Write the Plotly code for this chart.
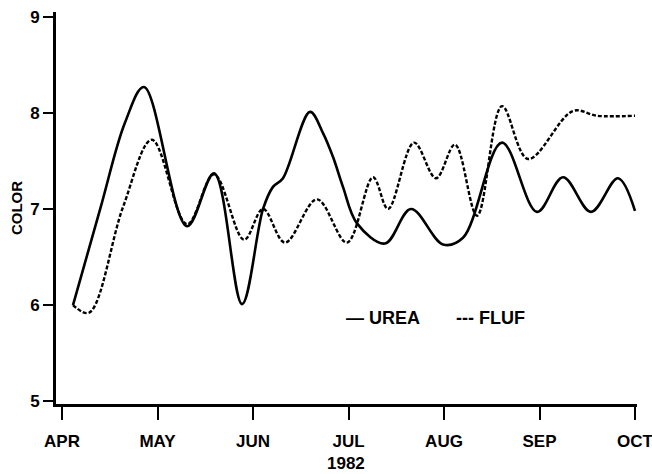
import plotly.graph_objects as go

# month positions: 0 = APR 1, 1 = MAY 1, ... 6 = OCT 1
month_labels = ["APR", "MAY", "JUN", "JUL", "AUG", "SEP", "OCT"]
month_ticks = [0, 1, 2, 3, 4, 5, 6]

urea_x = [0.115, 0.40, 0.66, 0.859, 1.309, 1.592, 1.885, 2.105, 2.209, 2.314, 2.597,
          2.733, 2.838, 2.942, 3.089, 3.382, 3.654, 3.990, 4.199, 4.607, 4.974,
          5.246, 5.539, 5.822, 6.0]
urea_y = [6.00, 7.00, 7.90, 8.27, 6.82, 7.37, 6.01, 7.00, 7.23, 7.32, 8.01,
          7.79, 7.54, 7.23, 6.85, 6.64, 7.00, 6.63, 6.70, 7.69, 6.97,
          7.33, 6.97, 7.32, 6.98]

fluf_x = [0.115, 0.283, 0.639, 0.942, 1.309, 1.592, 1.906, 2.105, 2.335, 2.670,
          2.984, 3.257, 3.414, 3.686, 3.916, 4.115, 4.346, 4.607, 4.880, 5.351,
          5.602, 6.0]
fluf_y = [6.00, 5.92, 7.02, 7.72, 6.84, 7.36, 6.68, 7.00, 6.65, 7.10,
          6.65, 7.33, 7.00, 7.69, 7.32, 7.67, 6.93, 8.07, 7.52, 8.02,
          7.97, 7.97]

y_ticks = [5, 6, 7, 8, 9]

FONT = "Liberation Sans, Arial, Helvetica, sans-serif"

fig = go.Figure()
fig.add_trace(go.Scatter(x=urea_x, y=urea_y, mode="lines", name="UREA",
                         line=dict(color="black", width=2.6, shape="spline", smoothing=1.0)))
fig.add_trace(go.Scatter(x=fluf_x, y=fluf_y, mode="lines", name="FLUF",
                         line=dict(color="black", width=2.4, dash="4px,2px",
                                   shape="spline", smoothing=1.0)))

fig.update_layout(
    width=652, height=474,
    margin=dict(l=56, r=15, t=12, b=70, autoexpand=False),
    plot_bgcolor="white", paper_bgcolor="white",
    showlegend=False,
    font=dict(family=FONT, color="black", size=16, weight="bold"),
    xaxis=dict(
        range=[-0.063, 6.021], tickvals=month_ticks, ticktext=month_labels,
        automargin=False, ticklabeloverflow="allow",
        showgrid=False, zeroline=False, showline=True, linecolor="black", linewidth=3,
        ticks="outside", ticklen=13, tickwidth=2, tickcolor="black",
        tickfont=dict(family=FONT, size=17, weight="bold"),
        ticklabelstandoff=7,
    ),
    yaxis=dict(
        range=[4.97, 9.05], tickvals=y_ticks,
        automargin=False, ticklabeloverflow="allow",
        showgrid=False, zeroline=False, showline=True, linecolor="black", linewidth=3,
        ticks="outside", ticklen=10, tickwidth=1.5, tickcolor="black",
        tickfont=dict(family=FONT, size=17, weight="bold"),
        title=dict(text="COLOR", font=dict(family=FONT, size=15, weight="bold"), standoff=4),
    ),
    annotations=[
        dict(x=2.97, y=-0.153, xref="x", yref="paper", text="1982", showarrow=False,
             xanchor="center", yanchor="middle", borderpad=0,
             font=dict(family=FONT, size=17, weight="bold")),
        dict(x=2.95, y=5.86, xref="x", yref="y", text="— UREA", showarrow=False,
             xanchor="left", yanchor="middle", font=dict(family=FONT, size=18, weight="bold")),
        dict(x=4.1, y=5.86, xref="x", yref="y", text="--- FLUF", showarrow=False,
             xanchor="left", yanchor="middle", font=dict(family=FONT, size=18, weight="bold")),
    ],
)

# remove the browser's default 8px body margin so the figure fills the window exactly
fig.write_html("out.html", config={"displayModeBar": False},
               post_script="document.body.style.margin='0';document.body.style.overflow='hidden';")
